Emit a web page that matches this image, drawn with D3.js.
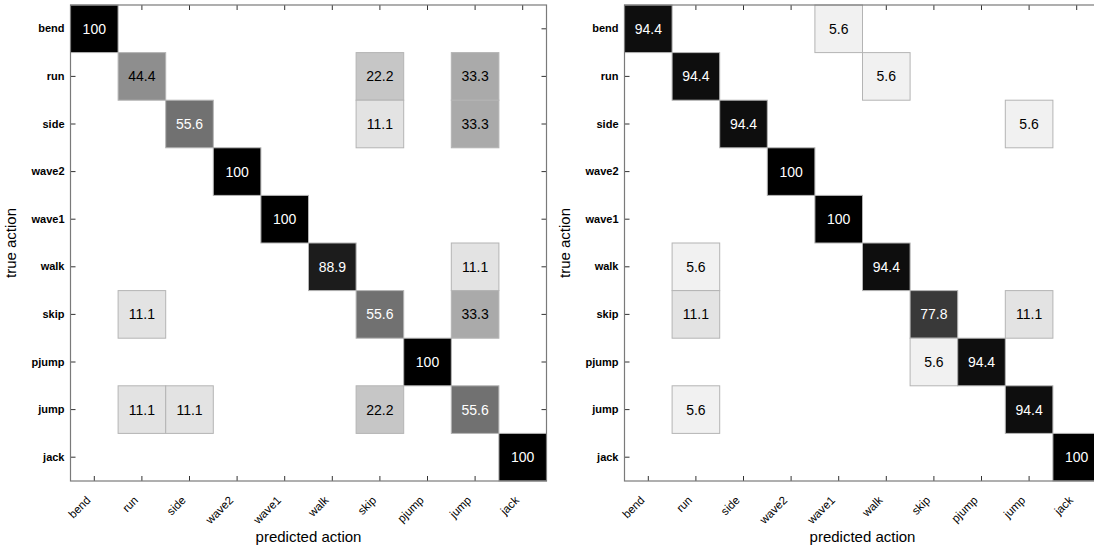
<!DOCTYPE html>
<html>
<head>
<meta charset="utf-8">
<script src="https://cdn.jsdelivr.net/npm/d3@7"></script>
<style>
  html, body { margin: 0; padding: 0; background: #fff; }
  svg { display: block; font-family: "Liberation Sans", Arial, Helvetica, sans-serif; }
  .tick text { font-weight: bold; font-size: 11px; fill: #000; }
  .x-labels .tick text { font-weight: normal; font-size: 11.5px; }
  .cell-label { font-size: 14px; }
  .axis-title { font-size: 15px; fill: #000; }
</style>
</head>
<body>
<svg id="chart" width="1094" height="549"></svg>
<script>
// ── data ──────────────────────────────────────────────────────────────────────
const actions = ['bend', 'run', 'side', 'wave2', 'wave1', 'walk', 'skip', 'pjump', 'jump', 'jack'];

// rows = true action, columns = predicted action (percent)
const leftMatrix = [
  [100, 0, 0, 0, 0, 0, 0, 0, 0, 0],
  [0, 44.4, 0, 0, 0, 0, 22.2, 0, 33.3, 0],
  [0, 0, 55.6, 0, 0, 0, 11.1, 0, 33.3, 0],
  [0, 0, 0, 100, 0, 0, 0, 0, 0, 0],
  [0, 0, 0, 0, 100, 0, 0, 0, 0, 0],
  [0, 0, 0, 0, 0, 88.9, 0, 0, 11.1, 0],
  [0, 11.1, 0, 0, 0, 0, 55.6, 0, 33.3, 0],
  [0, 0, 0, 0, 0, 0, 0, 100, 0, 0],
  [0, 11.1, 11.1, 0, 0, 0, 22.2, 0, 55.6, 0],
  [0, 0, 0, 0, 0, 0, 0, 0, 0, 100]
];

const rightMatrix = [
  [94.4, 0, 0, 0, 5.6, 0, 0, 0, 0, 0],
  [0, 94.4, 0, 0, 0, 5.6, 0, 0, 0, 0],
  [0, 0, 94.4, 0, 0, 0, 0, 0, 5.6, 0],
  [0, 0, 0, 100, 0, 0, 0, 0, 0, 0],
  [0, 0, 0, 0, 100, 0, 0, 0, 0, 0],
  [0, 5.6, 0, 0, 0, 94.4, 0, 0, 0, 0],
  [0, 11.1, 0, 0, 0, 0, 77.8, 0, 11.1, 0],
  [0, 0, 0, 0, 0, 0, 5.6, 94.4, 0, 0],
  [0, 5.6, 0, 0, 0, 0, 0, 0, 94.4, 0],
  [0, 0, 0, 0, 0, 0, 0, 0, 0, 100]
];

// ──────────────────────────────────────────────────────────────────────────────

const svg = d3.select('#chart');
const plotSize = 476;
const plotTop = 5;

// grey colormap: 0 -> white, 100 -> black
const color = d3.scaleLinear().domain([0, 100]).range(['#ffffff', '#000000']);

function drawMatrix(matrix, left) {
  const x = d3.scaleBand().domain(actions).range([0, plotSize]);
  const y = d3.scaleBand().domain(actions).range([0, plotSize]);

  const g = svg.append('g').attr('transform', `translate(${left},${plotTop})`);

  // inward ticks on all four sides
  const tickLen = 5;
  g.append('g').call(d3.axisLeft(y).tickSize(-tickLen).tickPadding(6))
    .call(a => a.select('.domain').remove());
  g.append('g').attr('transform', `translate(${plotSize},0)`)
    .call(d3.axisRight(y).tickSize(-tickLen).tickFormat(''))
    .call(a => a.select('.domain').remove());
  g.append('g')
    .call(d3.axisTop(x).tickSize(-tickLen).tickFormat(''))
    .call(a => a.select('.domain').remove());
  const bottom = g.append('g')
    .attr('class', 'x-labels')
    .attr('transform', `translate(0,${plotSize})`)
    .call(d3.axisBottom(x).tickSize(-tickLen).tickPadding(0))
    .call(a => a.select('.domain').remove());
  bottom.selectAll('.tick text')
    .attr('text-anchor', 'end')
    .attr('dy', 0)
    .attr('transform', 'translate(-3,20) rotate(-45)');
  g.selectAll('.tick line').attr('stroke', '#333');

  // cells
  const cells = [];
  matrix.forEach((row, i) => row.forEach((v, j) => {
    if (v > 0) cells.push({ row: actions[i], col: actions[j], v });
  }));

  g.append('g')
    .selectAll('rect')
    .data(cells)
    .join('rect')
    .attr('x', d => x(d.col))
    .attr('y', d => y(d.row))
    .attr('width', x.bandwidth())
    .attr('height', y.bandwidth())
    .attr('fill', d => color(d.v))
    .attr('stroke', '#b4b4b4')
    .attr('stroke-width', 1);

  g.append('g')
    .selectAll('text')
    .data(cells)
    .join('text')
    .attr('class', 'cell-label')
    .attr('x', d => x(d.col) + x.bandwidth() / 2)
    .attr('y', d => y(d.row) + y.bandwidth() / 2)
    .attr('text-anchor', 'middle')
    .attr('dy', '0.35em')
    .attr('fill', d => d.v > 50 ? '#fff' : '#000')
    .text(d => d.v);

  // frame
  g.append('rect')
    .attr('width', plotSize)
    .attr('height', plotSize)
    .attr('fill', 'none')
    .attr('stroke', '#7a7a7a')
    .attr('stroke-width', 1.2);

  // axis titles
  g.append('text')
    .attr('class', 'axis-title')
    .attr('x', plotSize / 2)
    .attr('y', plotSize + 61)
    .attr('text-anchor', 'middle')
    .text('predicted action');

  g.append('text')
    .attr('class', 'axis-title')
    .attr('transform', `translate(${-55},${plotSize / 2}) rotate(-90)`)
    .attr('text-anchor', 'middle')
    .text('true action');
}

drawMatrix(leftMatrix, 70.5);
drawMatrix(rightMatrix, 624.5);
</script>
</body>
</html>
